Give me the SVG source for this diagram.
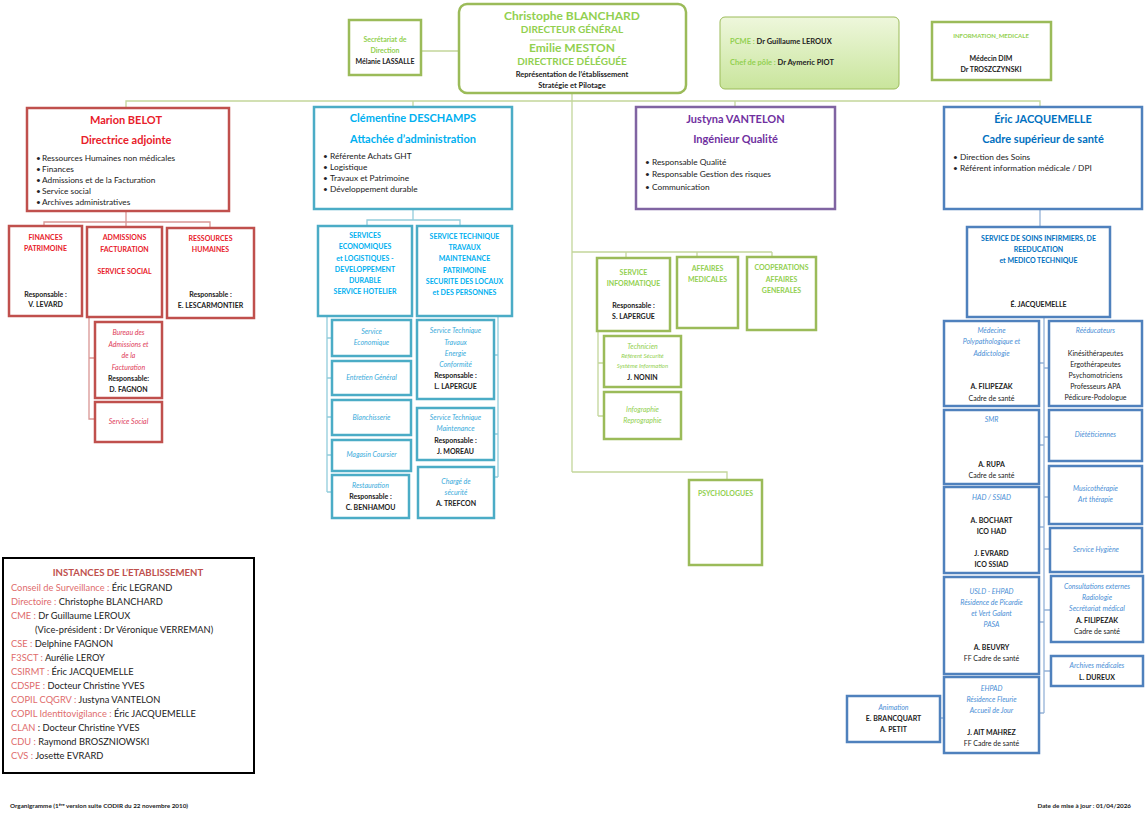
<svg xmlns="http://www.w3.org/2000/svg" width="1146" height="813" viewBox="0 0 1146 813">
<defs>
<linearGradient id="pg" x1="0" y1="0" x2="0" y2="1">
<stop offset="0" stop-color="#EEF7DC"/><stop offset="1" stop-color="#C9E59C"/>
</linearGradient>
<style>
text{font-family:Lato,"Liberation Sans",sans-serif;}
.c{text-anchor:middle}
.b{font-weight:bold}
.i{font-style:italic}
.gr{fill:#92D050}.rd{fill:#E8202A}.rdi{fill:#E0405A}.cy{fill:#00B0F0}.cyi{fill:#3AABDB}
.pu{fill:#7030A0}.bl{fill:#0070C0}.bli{fill:#4A8FD6}.dk{fill:#222}.lab{fill:#E06C6C}.ins{fill:#C0504D}
.s12{font-size:12px}.s11{font-size:11px}.s10{font-size:10px}.s9{font-size:9.3px}.s8{font-size:8.3px}.s75{font-size:7.5px}.s7{font-size:7px}.s6{font-size:6px}.sf{font-size:6.3px}
.bg{fill:#fff;stroke:#9BBB59;stroke-width:2.5}
.br{fill:#fff;stroke:#C0504D;stroke-width:2.5}
.bc{fill:#fff;stroke:#4BACC6;stroke-width:2.5}
.bp{fill:#fff;stroke:#8064A2;stroke-width:2.5}
.bb{fill:#fff;stroke:#4F81BD;stroke-width:2.5}
.cg{stroke:#C3D69B;stroke-width:1.3;fill:none}
.cr{stroke:#D99694;stroke-width:1.3;fill:none}
.cc{stroke:#92CDDC;stroke-width:1.3;fill:none}
.cb{stroke:#95B3D7;stroke-width:1.3;fill:none}
</style>
</defs>
<rect width="1146" height="813" fill="#fff"/>

<g id="connectors">
<path class="cg" d="M421 51H459 M572 93V472 M126 108V101H1040V107 M413 101V107 M735 101V107 M572 252H772 M626 252V258 M697 252V257 M772 252V257 M572 472H727V480 M598 331V416 M598 363H604 M598 416H604"/>
<path class="cr" d="M126 211V222 M44 226V222H210V228 M126 222V227 M89 317V419H95 M89 358H95"/>
<path class="cc" d="M413 209V220 M367 226V220H460V226 M327 316V492 M327 338H332 M327 378H332 M327 417H332 M327 455H332 M327 492H332 M498 316V477 M494 355H498 M494 434H498 M494 477H498"/>
<path class="cb" d="M1040 209V227 M1044 317V713 M1039 363H1044 M1039 445H1044 M1039 527H1044 M1039 622H1044 M1039 713H1044 M1044 368H1049 M1044 437H1049 M1044 497H1049 M1044 549H1050 M1044 610H1051 M1044 671H1051 M940 718H944"/>
</g>

<g id="secretariat">
<rect class="bg" x="349" y="20" width="72" height="55"/>
<text class="c b gr s7" x="385" y="42">Secrétariat de</text>
<text class="c b gr s7" x="385" y="53">Direction</text>
<text class="c b dk s7" x="385" y="64">Mélanie LASSALLE</text>
</g>

<g id="direction">
<rect class="bg" x="459" y="4" width="227" height="89" rx="8"/>
<text class="c b gr s12" x="572" y="20">Christophe BLANCHARD</text>
<text class="c b gr s10" x="572" y="33">DIRECTEUR GÉNÉRAL</text>
<line x1="530" y1="40" x2="616" y2="40" stroke="#C3D69B" stroke-width="1.2"/>
<text class="c b gr s12" x="572" y="52">Emilie MESTON</text>
<text class="c b gr s10" x="572" y="65">DIRECTRICE DÉLÉGUÉE</text>
<text class="c b dk s75" x="572" y="77">Représentation de l’établissement</text>
<text class="c b dk s75" x="572" y="88">Stratégie et Pilotage</text>
</g>

<g id="pcme">
<rect x="720" y="17" width="179" height="72" rx="5" fill="url(#pg)" stroke="#9BBB59" stroke-width="1"/>
<text class="b s75" x="730" y="44"><tspan class="gr">PCME : </tspan><tspan class="dk">Dr Guillaume LEROUX</tspan></text>
<text class="b s75" x="730" y="65"><tspan class="gr">Chef de pôle : </tspan><tspan class="dk">Dr Aymeric PIOT</tspan></text>
</g>

<g id="info-medicale">
<rect class="bg" x="932" y="22" width="119" height="58"/>
<text class="c b gr s6" x="991" y="38">INFORMATION_MEDICALE</text>
<text class="c b dk s7" x="991" y="61">Médecin DIM</text>
<text class="c b dk s7" x="991" y="72">Dr TROSZCZYNSKI</text>
</g>

<g id="belot">
<rect class="br" x="27" y="108" width="202" height="103"/>
<text class="c b rd s11" x="126" y="124">Marion BELOT</text>
<text class="c b rd s11" x="126" y="144">Directrice adjointe</text>
<g class="dk s8">
<text x="36" y="161">•</text><text x="42" y="161">Ressources Humaines non médicales</text>
<text x="36" y="172">•</text><text x="42" y="172">Finances</text>
<text x="36" y="183">•</text><text x="42" y="183">Admissions et de la Facturation</text>
<text x="36" y="194">•</text><text x="42" y="194">Service social</text>
<text x="36" y="205">•</text><text x="42" y="205">Archives administratives</text>
</g>
</g>

<g id="finances">
<rect class="br" x="9" y="226" width="73" height="90"/>
<text class="c b rd s7" x="45.5" y="240">FINANCES</text>
<text class="c b rd s7" x="45.5" y="251">PATRIMOINE</text>
<text class="c b dk s7" x="45.5" y="297">Responsable :</text>
<text class="c b dk s7" x="45.5" y="307">V. LEVARD</text>
</g>
<g id="admissions">
<rect class="br" x="87" y="227" width="75" height="90"/>
<text class="c b rd s7" x="124.5" y="240">ADMISSIONS</text>
<text class="c b rd s7" x="124.5" y="252">FACTURATION</text>
<text class="c b rd s7" x="124.5" y="274">SERVICE SOCIAL</text>
</g>
<g id="rh">
<rect class="br" x="167" y="228" width="87" height="90"/>
<text class="c b rd s7" x="210.5" y="241">RESSOURCES</text>
<text class="c b rd s7" x="210.5" y="252">HUMAINES</text>
<text class="c b dk s7" x="210.5" y="297">Responsable :</text>
<text class="c b dk s7" x="210.5" y="308">E. LESCARMONTIER</text>
</g>
<g id="bureau-admissions">
<rect class="br" x="95" y="322" width="67" height="76"/>
<text class="c i rdi s7" x="128.5" y="335">Bureau des</text>
<text class="c i rdi s7" x="128.5" y="347">Admissions et</text>
<text class="c i rdi s7" x="128.5" y="358">de la</text>
<text class="c i rdi s7" x="128.5" y="370">Facturation</text>
<text class="c b dk s7" x="128.5" y="381">Responsable:</text>
<text class="c b dk s7" x="128.5" y="392">D. FAGNON</text>
</g>
<g id="service-social">
<rect class="br" x="95" y="402" width="67" height="40"/>
<text class="c i rdi s7" x="128.5" y="424">Service Social</text>
</g>

<g id="deschamps">
<rect class="bc" x="314" y="107" width="198" height="102"/>
<text class="c b cy s11" x="413" y="122">Clémentine DESCHAMPS</text>
<text class="c b cy s11" x="413" y="143">Attachée d’administration</text>
<g class="dk s8">
<text x="323" y="159">•</text><text x="330" y="159">Référente Achats GHT</text>
<text x="323" y="170">•</text><text x="330" y="170">Logistique</text>
<text x="323" y="181">•</text><text x="330" y="181">Travaux et Patrimoine</text>
<text x="323" y="192">•</text><text x="330" y="192">Développement durable</text>
</g>
</g>
<g id="services-eco">
<rect class="bc" x="318" y="226" width="94" height="90"/>
<text class="c b cy s7" x="365" y="238">SERVICES</text>
<text class="c b cy s7" x="365" y="249">ECONOMIQUES</text>
<text class="c b cy s7" x="365" y="261">et LOGISTIQUES -</text>
<text class="c b cy s7" x="365" y="272">DEVELOPPEMENT</text>
<text class="c b cy s7" x="365" y="283">DURABLE</text>
<text class="c b cy s7" x="365" y="294">SERVICE HOTELIER</text>
</g>
<g id="service-technique">
<rect class="bc" x="417" y="226" width="95" height="90"/>
<text class="c b cy s7" x="464.5" y="239">SERVICE TECHNIQUE</text>
<text class="c b cy s7" x="464.5" y="250">TRAVAUX</text>
<text class="c b cy s7" x="464.5" y="261">MAINTENANCE</text>
<text class="c b cy s7" x="464.5" y="273">PATRIMOINE</text>
<text class="c b cy s7" x="464.5" y="284">SECURITE DES LOCAUX</text>
<text class="c b cy s7" x="464.5" y="295">et DES PERSONNES</text>
</g>
<g id="service-economique">
<rect class="bc" x="332" y="320" width="79" height="36"/>
<text class="c i cyi s7" x="371.5" y="334">Service</text>
<text class="c i cyi s7" x="371.5" y="345">Economique</text>
</g>
<g id="entretien">
<rect class="bc" x="332" y="361" width="79" height="34"/>
<text class="c i cyi s7" x="371.5" y="380">Entretien Général</text>
</g>
<g id="blanchisserie">
<rect class="bc" x="332" y="400" width="79" height="35"/>
<text class="c i cyi s7" x="371.5" y="420">Blanchisserie</text>
</g>
<g id="magasin">
<rect class="bc" x="332" y="440" width="79" height="31"/>
<text class="c i cyi s7" x="371.5" y="457">Magasin Coursier</text>
</g>
<g id="restauration">
<rect class="bc" x="332" y="475" width="77" height="43"/>
<text class="c i cyi s7" x="370.5" y="488">Restauration</text>
<text class="c b dk s7" x="370.5" y="499">Responsable :</text>
<text class="c b dk s7" x="370.5" y="510">C. BENHAMOU</text>
</g>
<g id="st-travaux">
<rect class="bc" x="417" y="320" width="77" height="79"/>
<text class="c i cyi s7" x="455.5" y="333">Service Technique</text>
<text class="c i cyi s7" x="455.5" y="345">Travaux</text>
<text class="c i cyi s7" x="455.5" y="356">Energie</text>
<text class="c i cyi s7" x="455.5" y="367">Conformité</text>
<text class="c b dk s7" x="455.5" y="378">Responsable :</text>
<text class="c b dk s7" x="455.5" y="389">L. LAPERGUE</text>
</g>
<g id="st-maintenance">
<rect class="bc" x="417" y="408" width="77" height="52"/>
<text class="c i cyi s7" x="455.5" y="420">Service Technique</text>
<text class="c i cyi s7" x="455.5" y="431">Maintenance</text>
<text class="c b dk s7" x="455.5" y="443">Responsable :</text>
<text class="c b dk s7" x="455.5" y="454">J. MOREAU</text>
</g>
<g id="securite">
<rect class="bc" x="418" y="467" width="76" height="51"/>
<text class="c i cyi s7" x="456" y="484">Chargé de</text>
<text class="c i cyi s7" x="456" y="495">sécurité</text>
<text class="c b dk s7" x="456" y="506">A. TREFCON</text>
</g>

<g id="vantelon">
<rect class="bp" x="636" y="107" width="199" height="102"/>
<text class="c b pu s11" x="735.5" y="123">Justyna VANTELON</text>
<text class="c b pu s11" x="735.5" y="143">Ingénieur Qualité</text>
<g class="dk s8">
<text x="645" y="165">•</text><text x="652" y="165">Responsable Qualité</text>
<text x="645" y="177">•</text><text x="652" y="177">Responsable Gestion des risques</text>
<text x="645" y="190">•</text><text x="652" y="190">Communication</text>
</g>
</g>
<g id="informatique">
<rect class="bg" x="597" y="258" width="73" height="73"/>
<text class="c b gr s7" x="633.5" y="275">SERVICE</text>
<text class="c b gr s7" x="633.5" y="286">INFORMATIQUE</text>
<text class="c b dk s7" x="633.5" y="308">Responsable :</text>
<text class="c b dk s7" x="633.5" y="319">S. LAPERGUE</text>
</g>
<g id="affaires-medicales">
<rect class="bg" x="677" y="257" width="61" height="71"/>
<text class="c b gr s7" x="707.5" y="271">AFFAIRES</text>
<text class="c b gr s7" x="707.5" y="282">MEDICALES</text>
</g>
<g id="cooperations">
<rect class="bg" x="747" y="257" width="69" height="73"/>
<text class="c b gr s7" x="781.5" y="270">COOPERATIONS</text>
<text class="c b gr s7" x="781.5" y="282">AFFAIRES</text>
<text class="c b gr s7" x="781.5" y="293">GENERALES</text>
</g>
<g id="technicien">
<rect class="bg" x="604" y="336" width="77" height="51"/>
<text class="c i gr s7" x="642.5" y="349">Technicien</text>
<text class="c i gr s6" x="642.5" y="358">Référent Sécurité</text>
<text class="c i gr s6" x="642.5" y="368">Système Information</text>
<text class="c b dk s7" x="642.5" y="380">J. NONIN</text>
</g>
<g id="infographie">
<rect class="bg" x="604" y="392" width="77" height="47"/>
<text class="c i gr s7" x="642.5" y="412">Infographie</text>
<text class="c i gr s7" x="642.5" y="423">Reprographie</text>
</g>
<g id="psychologues">
<rect class="bg" x="689" y="480" width="73" height="85"/>
<text class="c b gr s7" x="725.5" y="496">PSYCHOLOGUES</text>
</g>

<g id="jacquemelle">
<rect class="bb" x="944" y="107" width="198" height="102"/>
<text class="c b bl s11" x="1043" y="123">Éric JACQUEMELLE</text>
<text class="c b bl s11" x="1043" y="143">Cadre supérieur de santé</text>
<g class="dk s8">
<text x="953" y="160">•</text><text x="960" y="160">Direction des Soins</text>
<text x="953" y="171">•</text><text x="960" y="171">Référent information médicale / DPI</text>
</g>
</g>
<g id="soins">
<rect class="bb" x="967" y="227" width="143" height="90"/>
<text class="c b bl s7" x="1038.5" y="241">SERVICE DE SOINS INFIRMIERS, DE</text>
<text class="c b bl s7" x="1038.5" y="252">REEDUCATION</text>
<text class="c b bl s7" x="1038.5" y="263">et MEDICO TECHNIQUE</text>
<text class="c b dk s7" x="1038.5" y="307">É. JACQUEMELLE</text>
</g>
<g id="medecine">
<rect class="bb" x="944" y="321" width="95" height="85"/>
<text class="c i bli s7" x="991.5" y="333">Médecine</text>
<text class="c i bli s7" x="991.5" y="344">Polypathologique et</text>
<text class="c i bli s7" x="991.5" y="356">Addictologie</text>
<text class="c b dk s7" x="991.5" y="389">A. FILIPEZAK</text>
<text class="c dk s7" x="991.5" y="401">Cadre de santé</text>
</g>
<g id="smr">
<rect class="bb" x="944" y="410" width="95" height="74"/>
<text class="c i bli s7" x="991.5" y="422">SMR</text>
<text class="c b dk s7" x="991.5" y="467">A. RUPA</text>
<text class="c dk s7" x="991.5" y="478">Cadre de santé</text>
</g>
<g id="had">
<rect class="bb" x="944" y="487" width="95" height="86"/>
<text class="c i bli s7" x="991.5" y="500">HAD / SSIAD</text>
<text class="c b dk s7" x="991.5" y="523">A. BOCHART</text>
<text class="c b dk s7" x="991.5" y="534">ICO HAD</text>
<text class="c b dk s7" x="991.5" y="556">J. EVRARD</text>
<text class="c b dk s7" x="991.5" y="567">ICO SSIAD</text>
</g>
<g id="usld">
<rect class="bb" x="944" y="577" width="95" height="97"/>
<text class="c i bli s7" x="991.5" y="594">USLD - EHPAD</text>
<text class="c i bli s7" x="991.5" y="605">Résidence de Picardie</text>
<text class="c i bli s7" x="991.5" y="616">et Vert Galant</text>
<text class="c i bli s7" x="991.5" y="627">PASA</text>
<text class="c b dk s7" x="991.5" y="650">A. BEUVRY</text>
<text class="c dk s7" x="991.5" y="661">FF Cadre de santé</text>
</g>
<g id="ehpad">
<rect class="bb" x="944" y="677" width="95" height="76"/>
<text class="c i bli s7" x="991.5" y="691">EHPAD</text>
<text class="c i bli s7" x="991.5" y="702">Résidence Fleurie</text>
<text class="c i bli s7" x="991.5" y="713">Accueil de Jour</text>
<text class="c b dk s7" x="991.5" y="735">J. AIT MAHREZ</text>
<text class="c dk s7" x="991.5" y="746">FF Cadre de santé</text>
</g>
<g id="animation">
<rect class="bb" x="847" y="696" width="93" height="46"/>
<text class="c i bli s7" x="893.5" y="710">Animation</text>
<text class="c b dk s7" x="893.5" y="721">E. BRANCQUART</text>
<text class="c b dk s7" x="893.5" y="732">A. PETIT</text>
</g>
<g id="reeducateurs">
<rect class="bb" x="1049" y="321" width="93" height="85"/>
<text class="c i bli s7" x="1095.5" y="333">Rééducateurs</text>
<text class="c dk s7" x="1095.5" y="356">Kinésithérapeutes</text>
<text class="c dk s7" x="1095.5" y="367">Ergothérapeutes</text>
<text class="c dk s7" x="1095.5" y="378">Psychomotriciens</text>
<text class="c dk s7" x="1095.5" y="389">Professeurs APA</text>
<text class="c dk s7" x="1095.5" y="400">Pédicure-Podologue</text>
</g>
<g id="dieteticiennes">
<rect class="bb" x="1049" y="410" width="93" height="51"/>
<text class="c i bli s7" x="1095.5" y="437">Diététiciennes</text>
</g>
<g id="musicotherapie">
<rect class="bb" x="1049" y="466" width="93" height="58"/>
<text class="c i bli s7" x="1095.5" y="491">Musicothérapie</text>
<text class="c i bli s7" x="1095.5" y="502">Art thérapie</text>
</g>
<g id="hygiene">
<rect class="bb" x="1050" y="528" width="92" height="44"/>
<text class="c i bli s7" x="1096" y="552">Service Hygiène</text>
</g>
<g id="consultations">
<rect class="bb" x="1051" y="576" width="92" height="66"/>
<text class="c i bli s7" x="1097" y="589">Consultations externes</text>
<text class="c i bli s7" x="1097" y="600">Radiologie</text>
<text class="c i bli s7" x="1097" y="611">Secrétariat médical</text>
<text class="c b dk s7" x="1097" y="623">A. FILIPEZAK</text>
<text class="c dk s7" x="1097" y="634">Cadre de santé</text>
</g>
<g id="archives">
<rect class="bb" x="1051" y="656" width="92" height="30"/>
<text class="c i bli s7" x="1097" y="668">Archives médicales</text>
<text class="c b dk s7" x="1097" y="680">L. DUREUX</text>
</g>

<g id="instances">
<rect x="3" y="558" width="251" height="215" fill="#fff" stroke="#000" stroke-width="2"/>
<text class="c b ins" font-size="9.6" x="128" y="576">INSTANCES DE L’ETABLISSEMENT</text>
<g class="s9">
<text x="11" y="591"><tspan class="lab">Conseil de Surveillance : </tspan><tspan class="dk">Éric LEGRAND</tspan></text>
<text x="11" y="605"><tspan class="lab">Directoire : </tspan><tspan class="dk">Christophe BLANCHARD</tspan></text>
<text x="11" y="619"><tspan class="lab">CME : </tspan><tspan class="dk">Dr Guillaume LEROUX</tspan></text>
<text class="dk" x="35" y="633">(Vice-président : Dr Véronique VERREMAN)</text>
<text x="11" y="647"><tspan class="lab">CSE : </tspan><tspan class="dk">Delphine FAGNON</tspan></text>
<text x="11" y="661"><tspan class="lab">F3SCT : </tspan><tspan class="dk">Aurélie LEROY</tspan></text>
<text x="11" y="675"><tspan class="lab">CSIRMT : </tspan><tspan class="dk">Éric JACQUEMELLE</tspan></text>
<text x="11" y="689"><tspan class="lab">CDSPE : </tspan><tspan class="dk">Docteur Christine YVES</tspan></text>
<text x="11" y="703"><tspan class="lab">COPIL CQGRV : </tspan><tspan class="dk">Justyna VANTELON</tspan></text>
<text x="11" y="717"><tspan class="lab">COPIL Identitovigilance : </tspan><tspan class="dk">Éric JACQUEMELLE</tspan></text>
<text x="11" y="731"><tspan class="lab">CLAN </tspan><tspan class="dk">: Docteur Christine YVES</tspan></text>
<text x="11" y="745"><tspan class="lab">CDU : </tspan><tspan class="dk">Raymond BROSZNIOWSKI</tspan></text>
<text x="11" y="759"><tspan class="lab">CVS : </tspan><tspan class="dk">Josette EVRARD</tspan></text>
</g>
</g>

<g id="footer">
<text class="b dk sf" x="10" y="808">Organigramme (1<tspan font-size="4.2" dy="-2.5">ère</tspan><tspan dy="2.5"> version suite CODIR du 22 novembre 2010)</tspan></text>
<text class="b dk sf" x="1131" y="808" text-anchor="end">Date de mise à jour : 01/04/2026</text>
</g>
</svg>
